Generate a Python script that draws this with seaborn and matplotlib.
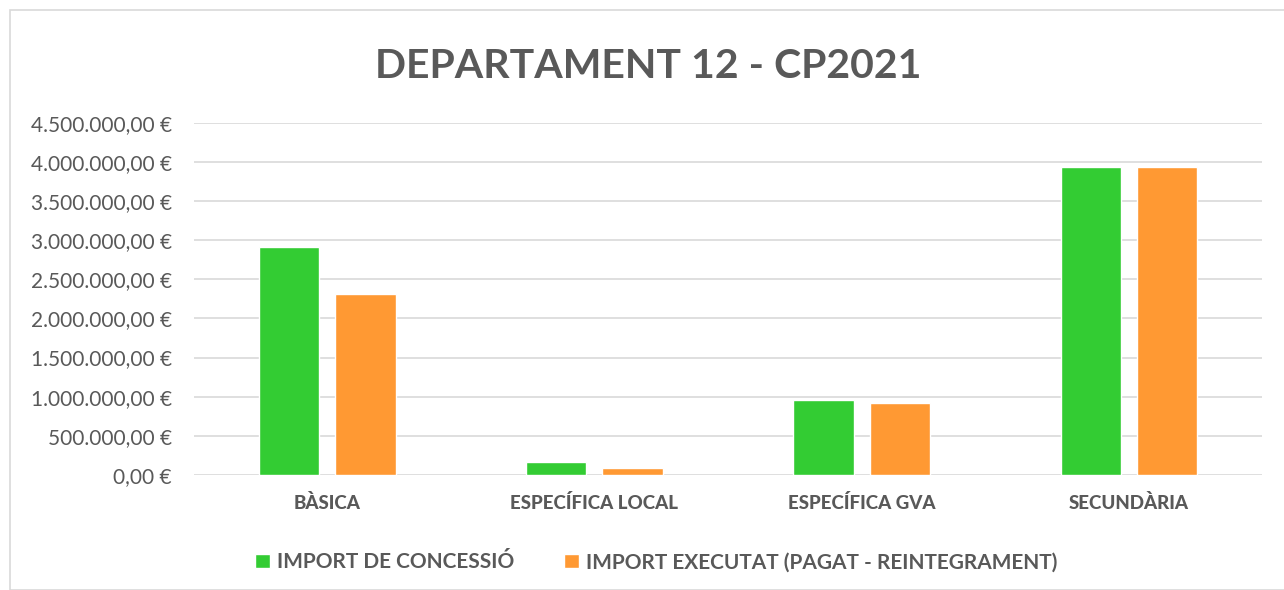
import pandas as pd
import matplotlib.pyplot as plt
import matplotlib.ticker as mticker
import seaborn as sns
from matplotlib.patches import Rectangle

categories = ["BÀSICA", "ESPECÍFICA LOCAL", "ESPECÍFICA GVA", "SECUNDÀRIA"]
series = ["IMPORT DE CONCESSIÓ", "IMPORT EXECUTAT (PAGAT - REINTEGRAMENT)"]
concessio = [2910000, 162000, 955000, 3935000]
executat = [2310000, 90000, 920000, 3930000]
colors = ["#33CC33", "#FF9933"]

df = pd.DataFrame({
    "categoria": categories * 2,
    "serie": [series[0]] * 4 + [series[1]] * 4,
    "import": concessio + executat,
})

sns.set_theme(style="white")
plt.rcParams["font.family"] = ["Lato", "DejaVu Sans"]
grey = "#595959"

fig = plt.figure(figsize=(12.84, 5.90), dpi=100)
ax = fig.add_axes([0.151, 0.195, 0.832, 0.597])

sns.barplot(data=df, x="categoria", y="import", hue="serie", palette=colors,
            width=0.57, gap=0.21, ax=ax, saturation=1, zorder=3)

ax.set_ylim(0, 4500000)
ax.set_yticks(range(0, 4500001, 500000))


def euro(v, pos):
    s = f"{v:,.2f}".replace(",", "X").replace(".", ",").replace("X", ".")
    return s + " €"


ax.yaxis.set_major_formatter(mticker.FuncFormatter(euro))
ax.grid(axis="y", color="#d9d9d9", linewidth=1.2, zorder=0)
for s in ax.spines.values():
    s.set_visible(False)
ax.tick_params(axis="y", length=0, pad=16, labelsize=15, labelcolor=grey)
ax.tick_params(axis="x", length=0, labelbottom=False)
ax.set_xlabel("")
ax.set_ylabel("")

# category labels in bold below the axis
for i, cat in enumerate(categories):
    ax.text(i, -0.055, cat, transform=ax.get_xaxis_transform(), ha="center", va="top",
            fontsize=13.5, fontweight=900, color=grey)

handles, labels = ax.get_legend_handles_labels()
ax.get_legend().remove()
fig.legend(handles, labels, loc="center", bbox_to_anchor=(0.511, 0.047), ncol=2,
           frameon=False, handlelength=0.7, handleheight=0.7, handletextpad=0.35,
           columnspacing=2.4, prop={"weight": "bold", "size": 15},
           labelcolor=grey)

fig.text(0.505, 0.888, "DEPARTAMENT 12 - CP2021", ha="center", va="center",
         fontsize=29.5, fontweight="bold", color=grey)

fig.patches.append(Rectangle((10 / 1284, 0), 1.0, 1 - 10 / 590, transform=fig.transFigure,
                             fill=False, edgecolor="#d9d9d9", linewidth=1.2))

fig.savefig("out.png", dpi=100)
